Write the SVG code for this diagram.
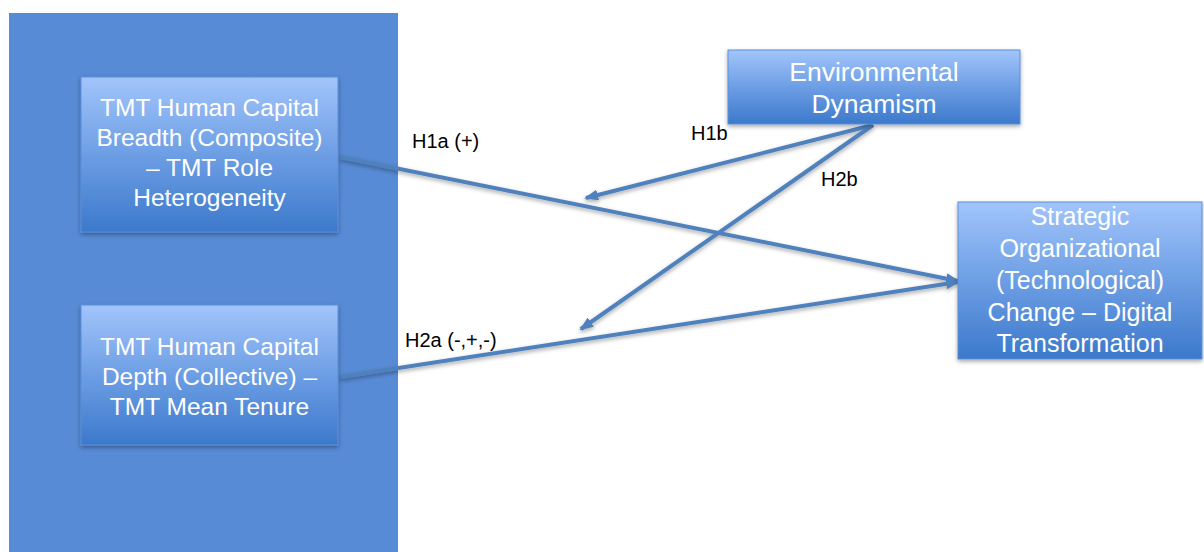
<svg xmlns="http://www.w3.org/2000/svg" width="1204" height="552" viewBox="0 0 1204 552">
<defs>
<linearGradient id="g" x1="0" y1="0" x2="0" y2="1">
<stop offset="0" stop-color="#a2c5fb"/>
<stop offset="0.5" stop-color="#6d9ee4"/>
<stop offset="1" stop-color="#3c79cb"/>
</linearGradient>
<filter id="sh" x="-10%" y="-10%" width="120%" height="130%">
<feDropShadow dx="0" dy="2" stdDeviation="2" flood-color="#000" flood-opacity="0.35"/>
</filter>
<marker id="ah" markerWidth="14" markerHeight="11" refX="12" refY="5.5" orient="auto" markerUnits="userSpaceOnUse" viewBox="0 0 14 11">
<path d="M0,0 L14,5.5 L0,11 Z" fill="#4f81bd"/>
</marker>
<style>
.box{fill:url(#g);stroke:#5a8fd8;stroke-width:1;filter:url(#sh)}
.nt{font-family:"Liberation Sans",Arial,sans-serif;fill:#fff;text-anchor:middle}
.lbl{font-family:"Liberation Sans",Arial,sans-serif;fill:#000;font-size:20px}
.c{stroke:#4f81bd;stroke-width:4;fill:none;marker-end:url(#ah)}
</style>
</defs>
<rect width="1204" height="552" fill="#fff"/>
<g id="panel">
<rect x="9" y="13" width="389" height="545" fill="#578bd5"/>
</g>
<g id="connectors" filter="url(#sh)">
<line class="c" x1="340" y1="157" x2="958" y2="281"/>
<line class="c" x1="340" y1="377" x2="958" y2="282"/>
<line class="c" x1="873" y1="125" x2="586" y2="198"/>
<line class="c" x1="873" y1="125" x2="581" y2="329"/>
</g>
<g id="node-breadth">
<rect class="box" x="81" y="77" width="257" height="155"/>
<text class="nt" font-size="24.5"><tspan x="209.5" y="116">TMT Human Capital</tspan><tspan x="209.5" y="146">Breadth (Composite)</tspan><tspan x="209.5" y="176">– TMT Role</tspan><tspan x="209.5" y="206">Heterogeneity</tspan></text>
</g>
<g id="node-depth">
<rect class="box" x="81" y="305" width="257" height="140"/>
<text class="nt" font-size="24.5"><tspan x="209.5" y="355">TMT Human Capital</tspan><tspan x="209.5" y="385">Depth (Collective)  –</tspan><tspan x="209.5" y="415">TMT Mean Tenure</tspan></text>
</g>
<g id="node-env">
<rect class="box" x="728" y="50" width="292" height="74"/>
<text class="nt" font-size="26.5"><tspan x="874" y="81">Environmental</tspan><tspan x="874" y="113">Dynamism</tspan></text>
</g>
<g id="node-strategic">
<rect class="box" x="958" y="202" width="244" height="157"/>
<text class="nt" font-size="25"><tspan x="1080" y="225">Strategic</tspan><tspan x="1080" y="257">Organizational</tspan><tspan x="1080" y="289">(Technological)</tspan><tspan x="1080" y="321">Change – Digital</tspan><tspan x="1080" y="352">Transformation</tspan></text>
</g>
<g id="labels">
<text class="lbl" x="412" y="148">H1a (+)</text>
<text class="lbl" x="691" y="140">H1b</text>
<text class="lbl" x="821" y="186">H2b</text>
<text class="lbl" x="405" y="347">H2a (-,+,-)</text>
</g>
</svg>
